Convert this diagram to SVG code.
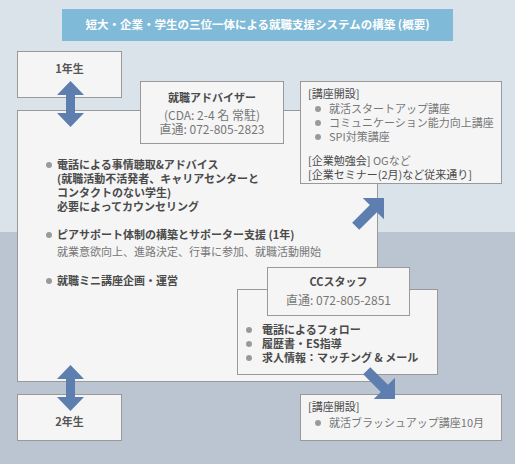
<svg xmlns="http://www.w3.org/2000/svg" width="515" height="464" viewBox="0 0 515 464">
<style>
text{font-family:"Noto Sans CJK JP","Noto Sans",sans-serif;font-size:11px;fill:#4a4a4a}
.b{font-weight:bold}
.g{fill:#777}
.c{text-anchor:middle}
.box{fill:#f5f5f5;stroke:#999;stroke-width:1}
.dot{fill:#9a9a9a}
.arr{fill:#5d7eae}
</style>
<defs>
<polygon id="diag" points="0,0 -15,-15 -15,-5 -40,-5 -40,5 -15,5 -15,15"/>
</defs>
<rect x="0" y="0" width="515" height="232" fill="#dae2ea"/>
<rect x="0" y="232" width="515" height="232" fill="#bbc5d1"/>
<g id="title">
<rect x="62" y="9" width="391" height="32" fill="#7fbad8"/>
<text x="257.5" y="29" class="c b" style="fill:#fff;font-size:11.5px">短大・企業・学生の三位一体による就職支援システムの構築 (概要)</text>
</g>
<g id="year1">
<rect class="box" x="17.5" y="51.5" width="104" height="46"/>
<text x="69.5" y="73" class="c b" style="fill:#555">1年生</text>
</g>
<g id="main">
<rect class="box" x="17.5" y="110.5" width="360" height="271"/>
<circle class="dot" cx="49" cy="165" r="3"/>
<text x="57" y="169" class="b">電話による事情聴取&amp;アドバイス</text>
<text x="57" y="183" class="b">(就職活動不活発者、キャリアセンターと</text>
<text x="57" y="197" class="b">コンタクトのない学生)</text>
<text x="57" y="211" class="b">必要によってカウンセリング</text>
<circle class="dot" cx="49" cy="235" r="3"/>
<text x="57" y="239" class="b">ピアサポート体制の構築とサポーター支援 (1年)</text>
<text x="57" y="256" class="g">就業意欲向上、進路決定、行事に参加、就職活動開始</text>
<circle class="dot" cx="49" cy="281" r="3"/>
<text x="57" y="285" class="b">就職ミニ講座企画・運営</text>
</g>
<g id="advisor">
<rect class="box" x="140.5" y="81.5" width="143" height="62"/>
<text x="212" y="102" class="c b">就職アドバイザー</text>
<text x="212" y="120" class="c g" style="font-size:12px">(CDA: 2-4 名 常駐)</text>
<text x="212" y="134" class="c g" style="font-size:12px">直通: 072-805-2823</text>
</g>
<g id="lecture1">
<rect class="box" x="300.5" y="81.5" width="201" height="102"/>
<text x="308" y="98">[講座開設]</text>
<circle class="dot" cx="318" cy="109" r="3"/>
<text x="329" y="113" class="g">就活スタートアップ講座</text>
<circle class="dot" cx="318" cy="123" r="3"/>
<text x="329" y="127" class="g">コミュニケーション能力向上講座</text>
<circle class="dot" cx="318" cy="137" r="3"/>
<text x="329" y="141" class="g">SPI対策講座</text>
<text x="308" y="165">[企業勉強会] <tspan class="g">OGなど</tspan></text>
<text x="308" y="179">[企業セミナー(2月)など従来通り]</text>
</g>
<g id="ccstaff">
<rect class="box" x="237.5" y="289.5" width="200" height="85"/>
<circle class="dot" cx="249" cy="330" r="3"/>
<text x="262" y="334" class="b">電話によるフォロー</text>
<circle class="dot" cx="249" cy="344" r="3"/>
<text x="262" y="348" class="b">履歴書・ES指導</text>
<circle class="dot" cx="249" cy="358" r="3"/>
<text x="262" y="362" class="b">求人情報：マッチング &amp; メール</text>
</g>
<g id="cchead">
<rect class="box" x="267.5" y="267.5" width="142" height="48"/>
<text x="338.5" y="286" class="c b">CCスタッフ</text>
<text x="338.5" y="305" class="c g" style="font-size:12px">直通: 072-805-2851</text>
</g>
<g id="year2">
<rect class="box" x="17.5" y="394.5" width="104" height="46"/>
<text x="69.5" y="426" class="c b" style="fill:#555">2年生</text>
</g>
<g id="lecture2">
<rect class="box" x="300.5" y="394.5" width="201" height="46"/>
<text x="308" y="411">[講座開設]</text>
<circle class="dot" cx="318" cy="423" r="3"/>
<text x="329" y="427" class="g">就活ブラッシュアップ講座10月</text>
</g>
<g id="connectors">
<polygon class="arr" points="70.5,81 84,95 75,95 75,113 84,113 70.5,127 57,113 66,113 66,95 57,95"/>
<polygon class="arr" points="70.5,365 84,379 75,379 75,397 84,397 70.5,411 57,397 66,397 66,379 57,379"/>
<use href="#diag" class="arr" transform="translate(384,198) rotate(-45)"/>
<use href="#diag" class="arr" transform="translate(395,399) rotate(45)"/>
</g>
</svg>
